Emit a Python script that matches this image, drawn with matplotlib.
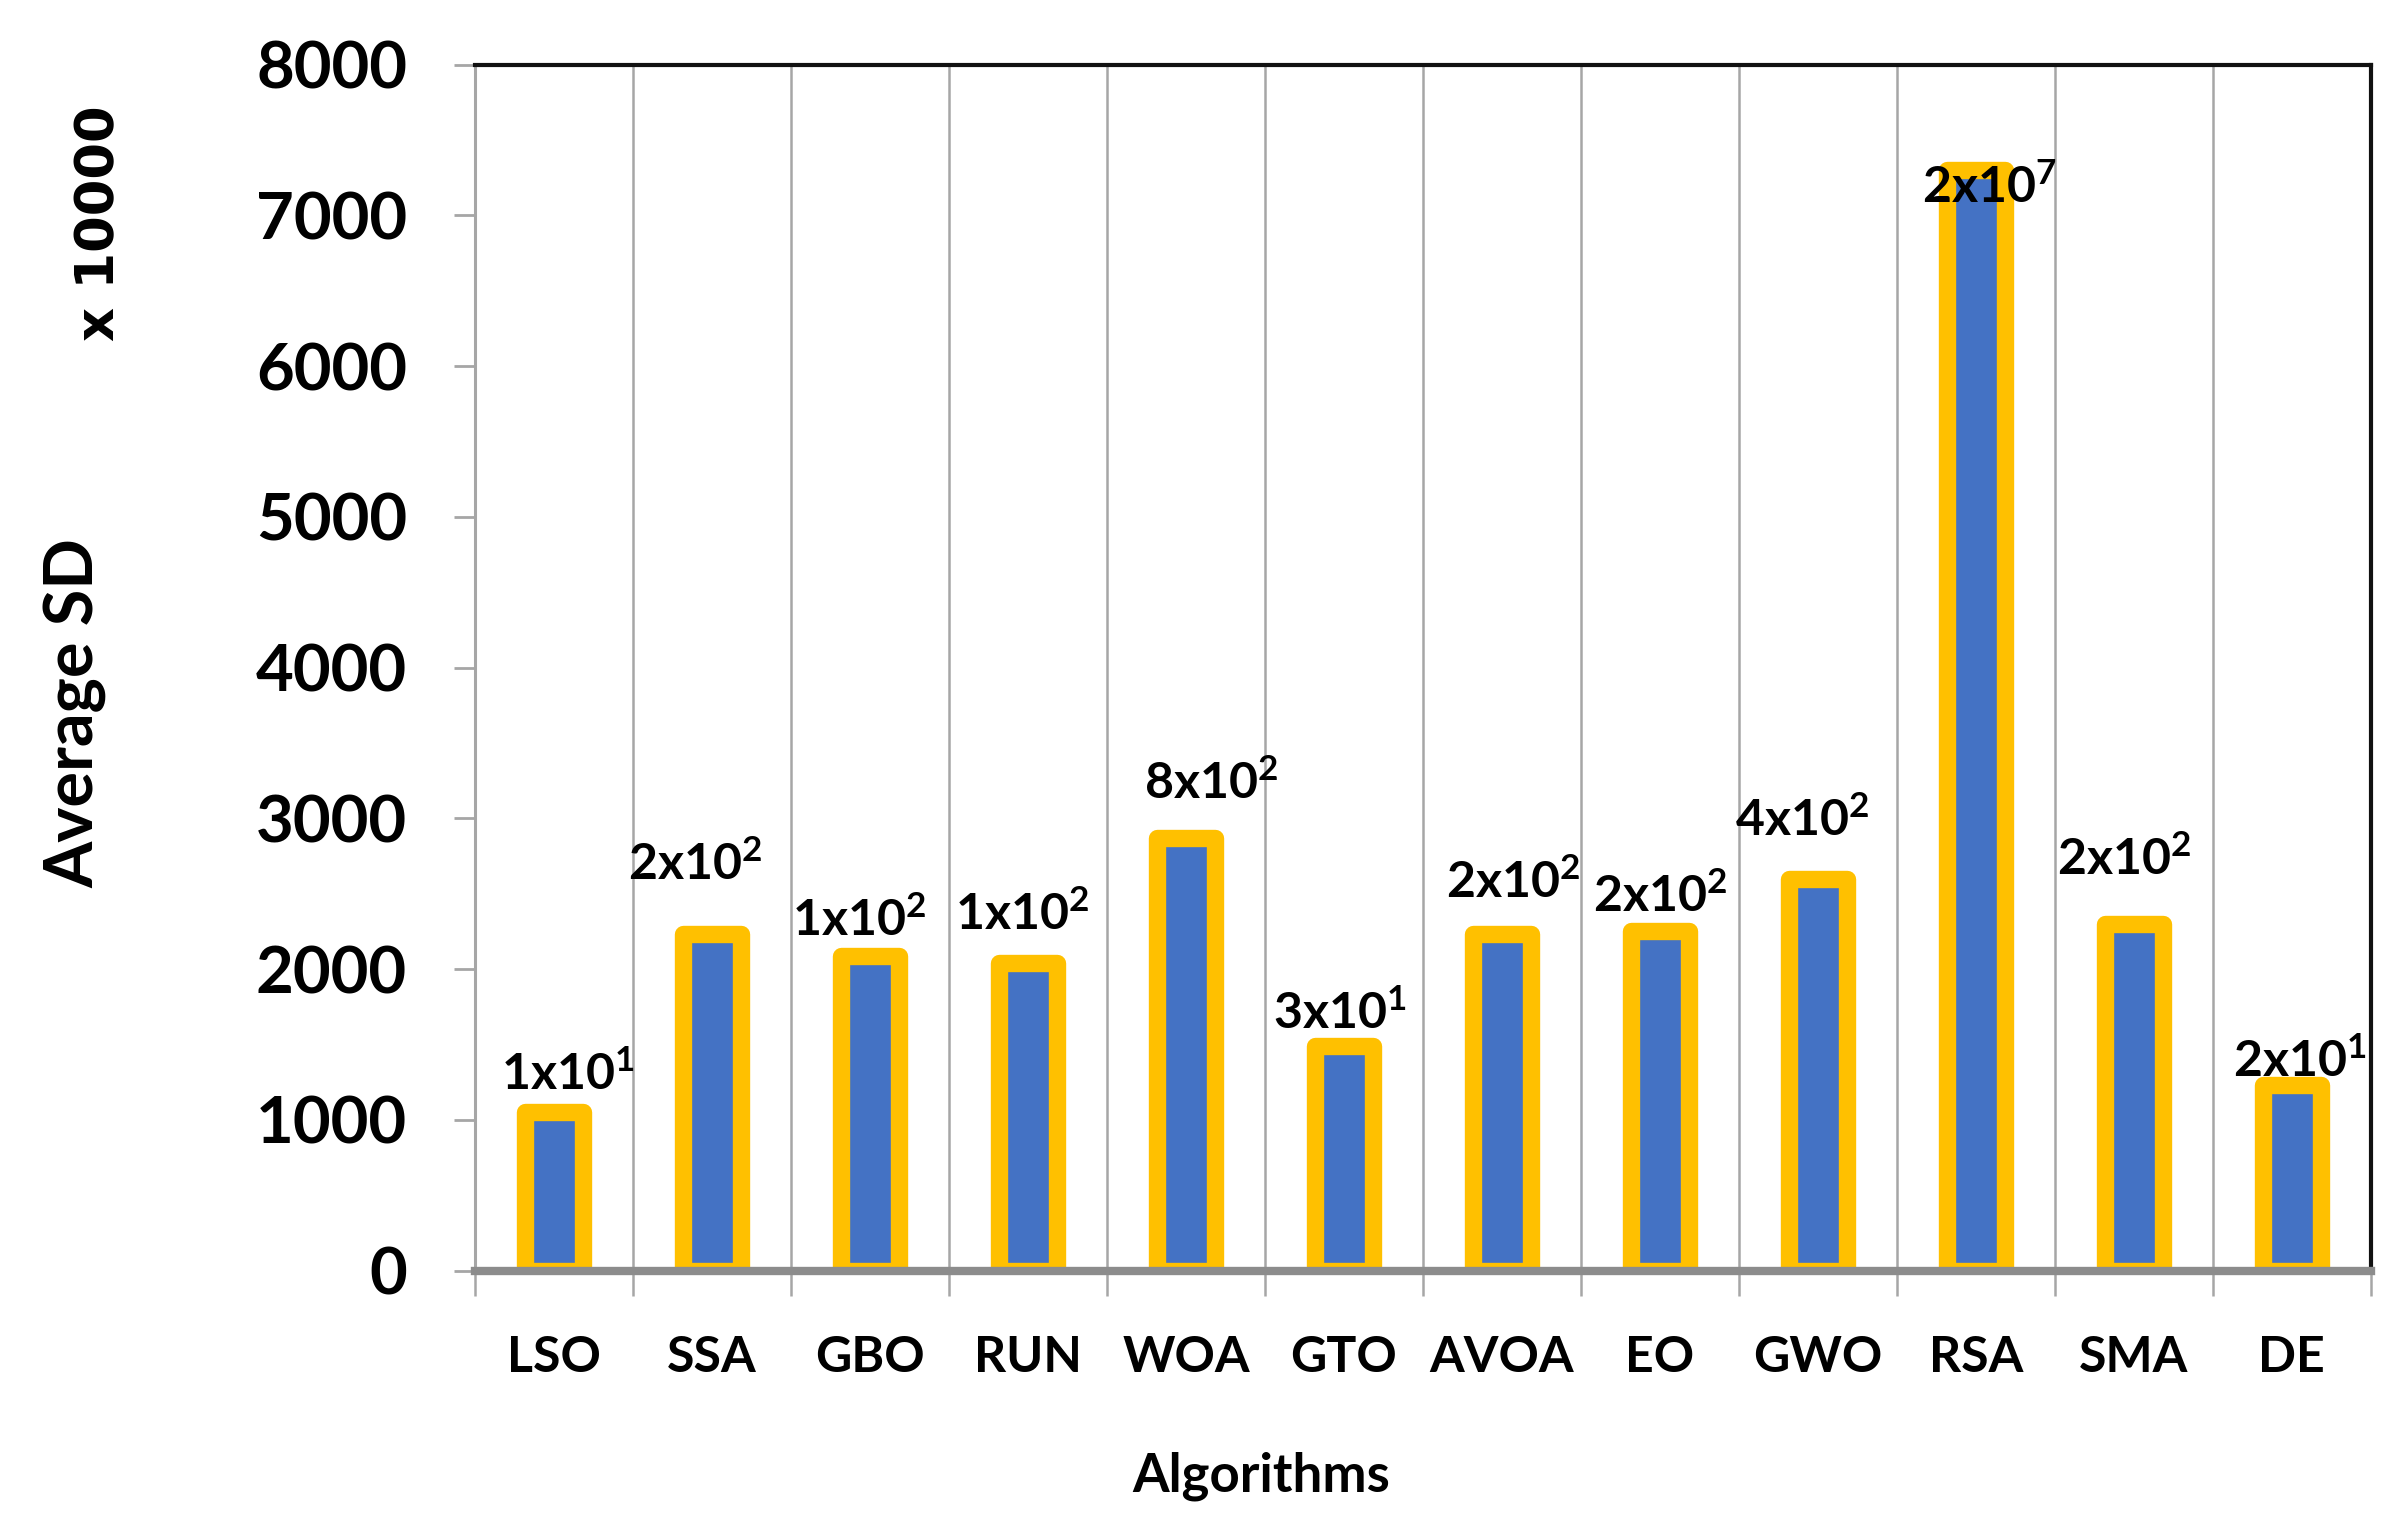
import matplotlib
matplotlib.use("Agg")
import matplotlib.pyplot as plt
from matplotlib.ticker import MultipleLocator, FixedLocator

# datos (escala x 10000)
algoritmos = ["LSO", "SSA", "GBO", "RUN", "WOA", "GTO", "AVOA", "EO", "GWO", "RSA", "SMA", "DE"]
valores = [1050, 2230, 2090, 2040, 2870, 1490, 2230, 2250, 2600, 7300, 2300, 1230]
etiquetas = ["1x10$^{1}$", "2x10$^{2}$", "1x10$^{2}$", "1x10$^{2}$", "8x10$^{2}$", "3x10$^{1}$",
             "2x10$^{2}$", "2x10$^{2}$", "4x10$^{2}$", "2x10$^{7}$", "2x10$^{2}$", "2x10$^{1}$"]
y_ticks = [0, 1000, 2000, 3000, 4000, 5000, 6000, 7000, 8000]

# desplazamiento de cada etiqueta (puntos)
dx_etiquetas = [10, -12, -8, -4, 18, -3, 8, 0, -11, 10, -7, 6]
dy_etiquetas = [16, 39, 14, 24, 28, 12, 26, 14, 31, -24, 35, 6]

AZUL = "#4472C4"
AMARILLO = "#FFC000"
GRIS = "#8C8C8C"

plt.rcParams["font.family"] = ["Lato", "DejaVu Sans"]
plt.rcParams["mathtext.fontset"] = "custom"
plt.rcParams["mathtext.rm"] = "Lato:bold"
plt.rcParams["mathtext.it"] = "Lato:bold"
plt.rcParams["mathtext.bf"] = "Lato:bold"
plt.rcParams["mathtext.default"] = "rm"


def dibujar():
    fig = plt.figure(figsize=(24.03, 15.36), dpi=100)
    ax = fig.add_axes([0.1977, 0.1727, 0.7889, 0.7853])

    x = list(range(len(algoritmos)))
    ax.bar(x, valores, width=0.37, color=AZUL, edgecolor=AMARILLO,
           linewidth=12.5, joinstyle="round", zorder=2)

    for i, (v, txt) in enumerate(zip(valores, etiquetas)):
        ax.annotate(txt, (i, v), xytext=(dx_etiquetas[i], dy_etiquetas[i]),
                    textcoords="offset points", ha="center", va="baseline",
                    fontsize=36, fontweight="bold", color="black", zorder=5)

    ax.set_xlim(-0.5, len(algoritmos) - 0.5)
    ax.set_ylim(0, 8000)
    ax.yaxis.set_major_locator(FixedLocator(y_ticks))

    ax.set_xticks(x)
    ax.set_xticklabels(algoritmos, fontsize=36, fontweight="bold")
    ax.xaxis.set_minor_locator(MultipleLocator(1, offset=0.5))
    ax.tick_params(axis="x", which="major", length=0, pad=46)
    ax.tick_params(axis="x", which="minor", length=18, width=1.8, color="#A6A6A6")
    ax.tick_params(axis="y", length=15, width=2, color="#A6A6A6", pad=34,
                   labelsize=47)
    for lab in ax.get_yticklabels():
        lab.set_fontweight("bold")

    # lineas verticales entre categorias
    ax.grid(axis="x", which="minor", color="#A6A6A6", linewidth=1.8, zorder=0)
    ax.set_axisbelow(True)

    ax.spines["bottom"].set_color(GRIS)
    ax.spines["bottom"].set_linewidth(6)
    ax.spines["bottom"].set_zorder(3)
    ax.spines["left"].set_color("#A6A6A6")
    ax.spines["left"].set_linewidth(2.2)
    ax.spines["top"].set_color("#111111")
    ax.spines["top"].set_linewidth(3)
    ax.spines["right"].set_color("#111111")
    ax.spines["right"].set_linewidth(3)

    fig.text(0.0415, 0.855, "x 10000", rotation=90, ha="center", va="center",
             fontsize=38, fontweight="bold", family="DejaVu Sans")
    fig.text(0.031, 0.536, "Average SD", rotation=90, ha="center", va="center",
             fontsize=48, fontweight="bold")
    fig.text(0.525, 0.039, "Algorithms", ha="center", va="center",
             fontsize=38, fontweight="bold")

    fig.savefig("out.png", dpi=100, facecolor="white")


if __name__ == "__main__":
    dibujar()
